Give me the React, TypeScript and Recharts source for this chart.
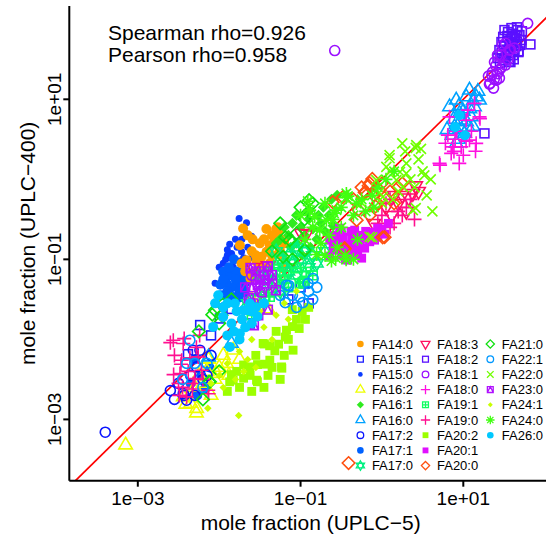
import { ScatterChart, Scatter, XAxis, YAxis, ReferenceLine } from "recharts";

// all values are log10(mole fraction): [UPLC-5, UPLC-400]
const fa14_0 = [[-1.706,-0.614],[-1.276,-0.656],[-1.317,-0.781],[-1.378,-0.823],[-1.746,-0.823],[-1.725,-1.051],[-1.541,-1.031],[-1.48,-0.969],[-1.255,-0.885],[-1.418,-0.906],[-1.562,-1.156],[-1.521,-1.239],[-1.215,-1.114],[-1.664,-1.01],[-1.615,-1.24],[-1.59,-0.75],[-1.3,-0.7],[-1.65,-0.7],[-1.5,-0.8],[-1.45,-0.75],[-1.35,-0.95],[-1.25,-0.75],[-1.6,-0.9],[-1.55,-0.95],[-1.48,-1.1],[-1.38,-1.05],[-1.3,-0.62],[-1.68,-1.15],[-1.28,-0.6],[-1.2,-0.8],[-1.22,-0.95],[-1.35,-0.7],[-1.42,-0.62]];
const fa15_1 = [[-1.991,-1.739],[-2.234,-1.821],[-1.615,-1.49],[-2.384,-2.185],[-1.623,-1.801],[-2.1,-1.95],[-1.85,-1.62],[-0.95,-1.3],[-1.0,-1.35],[-0.9,-1.55],[-1.15,-1.5]];
const fa15_0 = [[-1.755,-0.489],[-1.664,-0.544],[-1.602,-0.71],[-1.848,-0.926],[-1.725,-0.906],[-1.871,-0.81],[-1.828,-1.094],[-1.75,-1.02],[-1.7,-0.98],[-1.95,-1.05],[-1.9,-0.95],[-1.68,-1.1],[-2.05,-1.3],[-1.62,-1.2],[-1.8,-0.75],[-1.78,-0.85],[-1.9,-0.88],[-1.65,-0.85],[-1.72,-0.75],[-2.0,-1.1],[-1.92,-1.0],[-1.85,-0.98],[-1.6,-0.98]];
const fa16_2 = [[-3.15,-3.32],[-2.28,-2.92],[-2.41,-2.81],[-2.13,-2.25],[-1.4,-1.62],[-2.135,-2.239],[-2.277,-2.864],[-2.442,-2.719],[-1.909,-2.301],[-2.032,-2.426],[-1.828,-2.135],[-1.418,-1.635],[-2.2,-2.55],[-1.95,-2.2],[-2.05,-2.5],[-1.6,-1.5],[-2.15,-2.4],[-2.0,-2.35],[-2.3,-2.6],[-1.88,-2.45],[-2.1,-2.7],[-2.35,-2.8],[-2.25,-2.45],[-1.75,-2.25]];
const fa16_1 = [[-1.1,-0.55],[-1.0,-0.6],[-0.95,-0.7],[-1.05,-0.8],[-0.9,-0.5],[-0.85,-0.62],[-0.8,-0.75],[-1.15,-0.7],[-0.75,-0.55],[-0.7,-0.65],[-0.65,-0.45],[-0.6,-0.58],[-1.2,-0.6],[-1.25,-0.75],[-1.12,-0.85],[-0.98,-0.95],[-0.88,-0.85],[-0.78,-0.45],[-0.72,-0.35],[-0.9,-0.4],[-1.05,-0.45],[-0.62,-0.25],[-0.55,-0.2],[-1.3,-0.8]];
const fa16_0 = [[0.831,0.906],[0.913,0.99],[1.036,1.031],[1.076,1.115],[1.158,1.031],[0.953,0.824],[1.097,0.781],[0.892,0.656],[1.015,0.574],[1.137,0.906],[0.913,0.449],[1.199,0.99],[0.974,0.74],[1.06,0.65],[0.88,0.75],[0.95,0.92],[1.0,0.85],[1.12,0.98],[1.18,1.1],[0.98,0.62],[1.08,0.88],[0.86,0.55],[1.04,0.72],[0.94,0.5],[1.12,0.66],[0.8,0.62],[-2.13,-2.22],[-1.85,-2.05]];
const fa17_2 = [[-3.4,-3.16],[-2.6,-2.64],[-2.43,-2.7],[-2.442,-2.676],[-2.4,-2.76],[-2.319,-2.135],[-2.277,-2.344],[-2.237,-2.135],[-2.5,-2.55],[-2.35,-2.45],[-2.2,-2.5],[-2.3,-2.7],[-2.15,-2.45],[-2.55,-2.75],[-2.1,-2.2]];
const fa17_1 = [[-1.909,-1.301],[-1.951,-1.156],[-1.746,-1.219],[-1.685,-1.385],[-1.828,-1.469],[-1.787,-1.301],[-1.664,-1.281],[-1.869,-1.198],[-1.986,-1.318],[-1.914,-1.455],[-1.7,-1.41],[-1.785,-1.155],[-1.85,-1.35],[-1.75,-1.4],[-1.9,-1.4],[-1.8,-1.25],[-1.7,-1.3],[-1.95,-1.25],[-1.88,-1.1],[-1.82,-1.0],[-1.72,-1.12],[-1.65,-1.18],[-1.98,-1.45],[-1.76,-1.48],[-2.3,-2.25],[-2.22,-2.45],[-2.35,-2.55],[-2.18,-2.62],[-2.27,-2.7],[-2.12,-2.35],[-1.95,-1.6]];
const fa17_0 = [[-1.35,-1.15],[-1.25,-1.0],[-1.15,-0.95],[-1.05,-0.85],[-1.2,-1.1],[-1.3,-0.9],[-1.1,-1.05],[-0.95,-0.9],[-1.4,-1.25],[-1.0,-1.0],[-1.45,-1.4],[-1.5,-1.2],[-1.2,-1.25],[-1.3,-1.3],[-1.15,-1.15],[-1.05,-1.2],[-0.9,-1.1],[-0.85,-0.95],[-1.25,-1.4],[-1.55,-1.5],[-1.65,-1.55],[-1.0,-0.8],[-0.8,-1.05],[-0.7,-0.9]];
const fa18_3 = [[-0.931,-0.683],[0.415,-0.08],[0.329,-0.231],[-0.989,-0.676],[0.38,-0.176],[0.05,-0.35],[0.12,-0.45],[0.2,-0.3],[-0.1,-0.55],[0.25,-0.2],[0.3,-0.4],[0.45,-0.15],[0.15,-0.2],[-1.58,-1.1],[-1.4,-1.08]];
const fa18_2 = [[1.506,1.865],[1.592,1.89],[1.665,1.865],[1.542,1.79],[1.628,1.765],[1.69,1.803],[1.469,1.715],[1.567,1.678],[1.653,1.665],[1.444,1.615],[1.53,1.59],[1.616,1.553],[1.42,1.515],[1.714,1.74],[1.579,1.465],[1.493,1.49],[1.677,1.59],[1.55,1.84],[1.6,1.82],[1.64,1.8],[1.58,1.75],[1.66,1.72],[1.7,1.68],[1.5,1.66],[1.54,1.62],[1.6,1.7],[1.63,1.62],[1.68,1.6],[1.57,1.55],[1.47,1.58],[1.52,1.52],[1.62,1.5],[1.45,1.45],[1.56,1.47],[1.66,1.9],[1.72,1.85],[1.49,1.78],[1.26,0.574],[1.825,1.686]];
const fa18_1 = [[1.481,1.678],[1.42,1.553],[1.567,1.615],[1.383,1.465],[1.518,1.428],[1.444,1.365],[1.358,1.34],[1.407,1.24],[1.321,1.19],[1.444,1.265],[1.371,1.14],[1.309,1.29],[1.628,1.64],[1.52,1.7],[1.58,1.62],[1.46,1.55],[1.4,1.42],[1.35,1.3],[1.42,1.32],[1.33,1.2],[1.38,1.25],[1.47,1.4],[1.55,1.5],[1.791,1.949],[-0.58,1.609],[-1.55,-1.25],[-1.45,-1.35],[-1.6,-1.2],[-1.5,-1.4],[-1.4,-1.2]];
const fa18_0 = [[0.81,0.553],[0.871,0.406],[1.076,0.49],[1.158,0.449],[0.851,0.324],[0.974,0.406],[1.199,0.781],[0.708,0.199],[1.036,0.74],[1.137,0.949],[0.831,0.781],[1.055,0.865],[0.714,0.178],[0.885,0.349],[1.205,0.758],[1.034,0.478],[0.92,0.6],[1.0,0.3],[1.1,0.6],[0.78,0.45],[0.95,0.2],[1.15,0.35],[0.9,0.5]];
const fa19_1 = [[-1.01,-1.301],[-0.948,-1.281],[-1.378,-1.469],[-1.234,-1.26],[-0.974,-1.284],[-0.931,-1.155],[-1.059,-1.111],[-1.274,-1.069],[-1.444,-1.455],[-1.15,-1.35],[-1.3,-1.4],[-1.5,-1.6],[-0.85,-1.2],[-1.2,-1.2],[-1.6,-1.7]];
const fa19_0 = [[-2.6,-2.04],[-2.43,-1.99],[-2.47,-2.31],[-2.24,-1.95],[-2.3,-2.49],[-2.49,-2.7],[-2.13,-2.68],[-2.36,-2.23],[-2.56,-2.44],[-2.564,-2.01],[-2.442,-2.051],[-2.461,-2.26],[-2.482,-2.426],[-2.319,-2.551],[-2.135,-2.635],[-2.4,-2.719],[-2.216,-2.385],[-2.258,-2.219],[-2.55,-2.2],[-2.38,-2.4],[-2.28,-2.1],[-2.5,-2.55],[-2.2,-2.5],[-2.33,-2.62],[-2.45,-2.6],[0.1,-0.25],[0.2,-0.4],[0.3,-0.35],[0.15,-0.55],[0.0,-0.45],[0.05,-0.3],[0.25,-0.45],[0.35,-0.25],[0.4,-0.5],[-0.05,-0.55],[0.1,-0.6]];
const fa20_2 = [[-0.94,-1.75],[-1.23,-2.36],[-1.53,-2.53],[-1.85,-2.44],[-1.44,-2.31],[-1.27,-2.06],[-1.1,-1.84],[-1.7,-2.32],[-1.234,-2.344],[-1.541,-2.51],[-1.092,-2.135],[-1.378,-2.26],[-1.173,-1.885],[-1.46,-2.051],[-1.623,-2.344],[-1.828,-2.51],[-1.017,-1.864],[-1.102,-1.628],[-1.188,-1.971],[-1.316,-2.143],[-1.444,-2.058],[-1.529,-2.315],[-1.7,-2.485],[-1.785,-2.4],[-1.871,-2.53],[-1.3,-1.9],[-1.2,-2.2],[-1.35,-2.35],[-1.55,-2.2],[-1.62,-2.45],[-1.4,-2.45],[-1.15,-2.0],[-1.05,-1.75],[-0.98,-1.65],[-1.25,-2.5],[-1.9,-2.65],[-1.75,-2.6],[-1.6,-2.65],[-1.45,-2.6],[-0.9,-1.6],[-1.38,-2.08]];
const fa20_1 = [[-0.642,-0.76],[-0.544,-0.698],[-0.458,-0.823],[-0.372,-0.735],[-0.274,-0.798],[-0.175,-0.71],[-0.09,-0.76],[-0.58,-0.885],[-0.496,-0.948],[-0.396,-0.91],[-0.298,-0.885],[-0.212,-0.86],[-0.126,-0.66],[-0.053,-0.61],[-0.519,-0.61],[-0.335,-0.635],[-0.421,-1.01],[-0.249,-0.985],[-0.642,-0.96],[0.033,-0.685],[-0.6,-0.7],[-0.48,-0.72],[-0.4,-0.82],[-0.32,-0.78],[-0.22,-0.75],[-0.15,-0.78],[-0.55,-0.8],[-0.45,-0.9],[-0.35,-0.95],[-0.28,-0.7],[-0.1,-0.68],[0.0,-0.62],[-0.2,-0.65],[-0.6,-0.85],[-0.5,-0.65],[-0.38,-0.65],[0.08,-0.55],[-0.05,-0.72],[-0.3,-0.86],[-0.45,-1.0]];
const fa20_0 = [[-0.605,-0.285],[-0.482,-0.223],[-0.151,-0.048],[-0.213,-0.16],[-0.028,-0.135],[0.033,-0.723],[-0.458,-0.86],[-0.31,-0.51],[-0.41,-3.545],[-0.163,-0.08],[-0.119,0.005],[0.009,-0.725],[-0.205,-0.166],[-0.291,-0.381],[-0.077,-0.339],[-0.461,-0.875],[-0.25,-0.1],[-0.35,-0.25],[-0.1,-0.2],[0.0,-0.05],[-0.05,-0.3],[0.1,-0.15],[0.15,-0.3],[0.2,-0.1],[-0.15,-0.45],[0.25,-0.05]];
const fa21_0 = [[-0.896,-0.26],[-2.085,-1.691],[-1.957,-1.563],[-2.126,-2.53],[-2.053,-1.635],[-1.971,-1.698],[-2.114,-2.531],[-1.05,-0.676],[-1.133,-0.76],[-0.948,-0.885],[-1.215,-0.969],[-1.188,-0.725],[-1.25,-0.55],[-1.0,-0.35],[-0.85,-0.3],[-0.95,-0.5],[-1.35,-0.9],[-1.1,-1.0],[-2.25,-1.9],[-2.0,-1.8],[-1.85,-1.5],[-2.0,-2.4],[-2.2,-2.75]];
const fa22_1 = [[-2.36,-2.01],[-1.173,-1.323],[-1.01,-1.469],[-0.908,-1.301],[-1.145,-1.326],[-0.845,-1.24],[-0.974,-1.541],[-1.188,-1.541],[-1.1,-1.45],[-0.9,-1.4],[-1.05,-1.6],[-0.85,-1.5],[-1.25,-1.45],[-0.8,-1.35],[-2.3,-2.3],[-2.45,-2.5],[-2.2,-2.6],[-2.15,-2.3],[-2.4,-2.3]];
const fa22_0 = [[0.094,0.303],[0.422,0.428],[0.38,-0.385],[-0.151,-0.719],[0.177,-0.01],[0.258,-0.094],[-0.069,-0.01],[0.012,-0.219],[0.299,0.074],[0.054,0.156],[0.094,0.264],[0.286,0.349],[0.415,0.393],[0.521,0.049],[0.415,-0.36],[-0.119,-0.725],[0.222,0.091],[-0.034,-0.166],[-0.248,-0.295],[0.137,-0.253],[0.3,0.2],[0.45,0.25],[0.5,0.1],[0.35,0.0],[0.2,-0.15],[0.4,-0.1],[0.55,-0.2],[0.1,0.1],[0.25,0.45],[0.48,0.38],[0.6,0.0],[0.0,-0.3],[0.62,-0.4]];
const fa23_0 = [[-1.615,-1.11],[-1.402,-1.09],[-1.574,-1.823],[-1.402,-1.628],[-1.525,-1.323],[-1.476,-1.41],[-1.353,-1.198],[-1.636,-1.485],[-1.439,-1.26],[-1.304,-1.385],[-1.55,-1.15],[-1.5,-1.25],[-1.6,-1.35],[-1.35,-1.3],[-1.45,-1.15],[-1.58,-1.55],[-1.68,-1.35],[-1.52,-1.7]];
const fa24_1 = [[-2.14,-2.86],[-1.76,-2.95],[-1.9,-2.3],[-1.75,-2.15],[-1.6,-2.0],[-1.45,-1.85],[-1.3,-1.7],[-1.2,-1.55],[-2.0,-2.45],[-1.65,-2.25],[-1.5,-1.65],[-1.05,-1.4],[-1.8,-2.5],[-1.55,-2.35],[-1.35,-2.0],[-1.95,-2.6],[-1.7,-2.4],[-1.15,-1.75],[-2.1,-2.55]];
const fa24_0 = [[-0.911,-0.273],[-0.439,-0.231],[-0.826,-0.469],[-0.682,-0.51],[-0.559,-0.385],[-0.437,-0.176],[-0.764,-0.635],[-0.887,-0.385],[-0.314,-0.301],[-0.568,-0.983],[-0.44,-1.004],[-0.803,-0.94],[-0.589,-0.424],[-0.418,-0.21],[-0.7,-0.3],[-0.6,-0.5],[-0.5,-0.6],[-0.75,-0.8],[-0.65,-0.7],[-0.35,-0.45],[-0.25,-0.25],[-0.2,-0.4],[-0.5,-0.35],[-0.85,-0.6],[-0.95,-0.75],[-1.0,-0.45],[-0.3,-0.75],[-0.55,-0.85],[-0.12,-0.2],[-0.05,-0.1],[0.05,0.0],[0.15,0.1],[-0.1,-0.35],[-0.45,-0.95],[-0.7,-0.95],[-0.62,-1.02],[-0.35,-1.0]];
const fa26_0 = [[-2.012,-1.448],[-1.848,-1.801],[-1.746,-1.926],[-1.869,-2.094],[-1.951,-1.719],[-1.623,-1.551],[-2.074,-1.844],[-1.706,-1.635],[-1.807,-1.551],[-1.529,-1.714],[-1.664,-1.635],[-1.785,-1.649],[-1.9,-1.55],[-1.95,-1.6],[-1.72,-1.75],[-1.6,-1.65],[-1.82,-1.9],[-1.9,-1.95],[-2.05,-1.55],[-1.68,-1.85],[-1.55,-1.6],[-1.45,-1.55],[-1.75,-2.0],[-1.6,-1.8],[0.95,0.8],[1.02,0.55],[0.9,0.65]];

const xDomain = [-3.842, 2.09];
const yDomain = [-3.766, 2.166];
const xTicks = [-3, -1, 1];
const yTicks = [-3, -1, 1];

type Pch =
  | "circle" | "filledCircle" | "dot" | "square" | "filledSquare" | "triangle"
  | "triangleDown" | "diamond" | "filledDiamond" | "smallDiamond" | "plus"
  | "cross" | "asterisk" | "squarePlus" | "squareTri" | "star";

// legend order (column-major, 9 per column)
const series: { name: string; data: number[][]; color: string; pch: Pch }[] = [
  { name: "FA14:0", data: fa14_0, color: "#FF9F00", pch: "filledCircle" },
  { name: "FA15:1", data: fa15_1, color: "#1E1EFF", pch: "square" },
  { name: "FA15:0", data: fa15_0, color: "#0A3CFF", pch: "dot" },
  { name: "FA16:2", data: fa16_2, color: "#EEFF00", pch: "triangle" },
  { name: "FA16:1", data: fa16_1, color: "#2FEA1F", pch: "filledDiamond" },
  { name: "FA16:0", data: fa16_0, color: "#00A2FF", pch: "triangle" },
  { name: "FA17:2", data: fa17_2, color: "#0A14FF", pch: "circle" },
  { name: "FA17:1", data: fa17_1, color: "#0062FF", pch: "filledCircle" },
  { name: "FA17:0", data: fa17_0, color: "#00F080", pch: "star" },
  { name: "FA18:3", data: fa18_3, color: "#FF1060", pch: "triangleDown" },
  { name: "FA18:2", data: fa18_2, color: "#5A10FF", pch: "square" },
  { name: "FA18:1", data: fa18_1, color: "#9A10FF", pch: "circle" },
  { name: "FA18:0", data: fa18_0, color: "#FF10E0", pch: "plus" },
  { name: "FA19:1", data: fa19_1, color: "#10FF60", pch: "squarePlus" },
  { name: "FA19:0", data: fa19_0, color: "#FF1090", pch: "plus" },
  { name: "FA20:2", data: fa20_2, color: "#9CFF00", pch: "filledSquare" },
  { name: "FA20:1", data: fa20_1, color: "#E010FF", pch: "filledSquare" },
  { name: "FA20:0", data: fa20_0, color: "#FF5010", pch: "diamond" },
  { name: "FA21:0", data: fa21_0, color: "#10E010", pch: "diamond" },
  { name: "FA22:1", data: fa22_1, color: "#0098FF", pch: "circle" },
  { name: "FA22:0", data: fa22_0, color: "#70FF00", pch: "cross" },
  { name: "FA23:0", data: fa23_0, color: "#B010FF", pch: "squareTri" },
  { name: "FA24:1", data: fa24_1, color: "#C8FF00", pch: "smallDiamond" },
  { name: "FA24:0", data: fa24_0, color: "#40FF10", pch: "asterisk" },
  { name: "FA26:0", data: fa26_0, color: "#00C8FF", pch: "filledCircle" },
];

// plotting order: the palmitoleic blues go down first so the orange stays visible
const drawOrder = ["FA15:1", "FA15:0", "FA17:1", "FA14:0"];
const drawn = [
  ...drawOrder.map((n) => series.find((s) => s.name === n)!),
  ...series.filter((s) => !drawOrder.includes(s.name)),
];

const FONT = "'Liberation Sans', Arial, Helvetica, sans-serif";

const fmtTick = (v: number) => (v < 0 ? `1e\u22120${-v}` : `1e+0${v}`);

function Marker({ cx, cy, pch, color, r }: { cx?: number; cy?: number; pch: Pch; color: string; r: number }) {
  if (cx == null || cy == null) return null;
  const sw = r > 4 ? 1.6 : 1.3;
  const line = { stroke: color, strokeWidth: sw, fill: "none" };
  const sq = r * 0.886;
  switch (pch) {
    case "circle":
      return <circle cx={cx} cy={cy} r={r} {...line} />;
    case "filledCircle":
      return <circle cx={cx} cy={cy} r={r} fill={color} />;
    case "dot":
      return <circle cx={cx} cy={cy} r={r * 0.7} fill={color} />;
    case "square":
      return <rect x={cx - sq} y={cy - sq} width={2 * sq} height={2 * sq} {...line} />;
    case "filledSquare":
      return <rect x={cx - sq} y={cy - sq} width={2 * sq} height={2 * sq} fill={color} />;
    case "triangle":
      return <polygon points={`${cx},${cy - 1.555 * r} ${cx + 1.347 * r},${cy + 0.778 * r} ${cx - 1.347 * r},${cy + 0.778 * r}`} {...line} />;
    case "triangleDown":
      return <polygon points={`${cx},${cy + 1.555 * r} ${cx + 1.347 * r},${cy - 0.778 * r} ${cx - 1.347 * r},${cy - 0.778 * r}`} {...line} />;
    case "diamond": {
      const d = r * 1.25;
      return <polygon points={`${cx},${cy - d} ${cx + d},${cy} ${cx},${cy + d} ${cx - d},${cy}`} {...line} />;
    }
    case "filledDiamond":
    case "smallDiamond": {
      const d = pch === "smallDiamond" ? r * 0.75 : r * 1.1;
      return <polygon points={`${cx},${cy - d} ${cx + d},${cy} ${cx},${cy + d} ${cx - d},${cy}`} fill={color} />;
    }
    case "plus": {
      const a = r * 1.41;
      return <path d={`M${cx - a},${cy}H${cx + a}M${cx},${cy - a}V${cy + a}`} {...line} />;
    }
    case "cross": {
      const a = r;
      return <path d={`M${cx - a},${cy - a}L${cx + a},${cy + a}M${cx - a},${cy + a}L${cx + a},${cy - a}`} {...line} />;
    }
    case "asterisk": {
      const a = r * 0.95;
      const b = r * 1.3;
      return <path d={`M${cx - a},${cy - a}L${cx + a},${cy + a}M${cx - a},${cy + a}L${cx + a},${cy - a}M${cx - b},${cy}H${cx + b}M${cx},${cy - b}V${cy + b}`} {...line} />;
    }
    case "squarePlus":
      return <path d={`M${cx - sq},${cy - sq}h${2 * sq}v${2 * sq}h${-2 * sq}ZM${cx - sq},${cy}H${cx + sq}M${cx},${cy - sq}V${cy + sq}`} {...line} />;
    case "squareTri":
      return <path d={`M${cx - sq},${cy - sq}h${2 * sq}v${2 * sq}h${-2 * sq}ZM${cx - sq},${cy + sq}L${cx},${cy - sq}L${cx + sq},${cy + sq}`} {...line} />;
    case "star": {
      const a = r * 1.1;
      return (
        <g {...line}>
          <polygon points={`${cx},${cy - 1.3 * a} ${cx + 1.13 * a},${cy + 0.65 * a} ${cx - 1.13 * a},${cy + 0.65 * a}`} />
          <polygon points={`${cx},${cy + 1.3 * a} ${cx + 1.13 * a},${cy - 0.65 * a} ${cx - 1.13 * a},${cy - 0.65 * a}`} />
        </g>
      );
    }
  }
  return null;
}

function YTick({ x, y, payload }: any) {
  return (
    <text x={x} y={y} transform={`rotate(-90 ${x} ${y})`} textAnchor="middle" fontSize={19} fill="#000" fontFamily={FONT}>
      {fmtTick(payload.value)}
    </text>
  );
}

function YLabel({ viewBox }: any) {
  const cy = viewBox.y + viewBox.height / 2;
  return (
    <text x={35} y={cy} transform={`rotate(-90 35 ${cy})`} textAnchor="middle" fontSize={21} fill="#000" fontFamily={FONT}>
      mole fraction (UPLC{"\u2212"}400)
    </text>
  );
}

const LEG_X = [360.4, 425.5, 490.3];
const LEG_Y0 = 344;
const LEG_DY = 15.2;

export default function App() {
  return (
    <div style={{ position: "absolute", left: 0, top: 0, width: 546, height: 539, overflow: "hidden", background: "#fff", fontFamily: FONT }}>
      <ScatterChart width={560} height={539} margin={{ top: 6, right: 8, bottom: 0, left: 0 }}>
        <XAxis
          type="number"
          dataKey="x"
          domain={xDomain}
          ticks={xTicks}
          tickFormatter={fmtTick}
          allowDataOverflow
          height={58.3}
          tickSize={6}
          tickMargin={5}
          tick={{ fontSize: 19, fill: "#000" }}
          axisLine={{ stroke: "#000", strokeWidth: 2 }}
          tickLine={{ stroke: "#000", strokeWidth: 2 }}
          label={{ value: "mole fraction (UPLC\u22125)", position: "insideBottom", offset: 9, fontSize: 21, fill: "#000" }}
        />
        <XAxis xAxisId="top" orientation="top" type="number" domain={xDomain} height={0} tick={false} tickLine={false} axisLine={{ stroke: "#000", strokeWidth: 2 }} />
        <YAxis
          type="number"
          dataKey="y"
          domain={yDomain}
          ticks={yTicks}
          allowDataOverflow
          width={69.3}
          tickSize={6}
          tickMargin={2}
          tick={<YTick />}
          axisLine={{ stroke: "#000", strokeWidth: 2 }}
          tickLine={{ stroke: "#000", strokeWidth: 2 }}
          label={{ content: <YLabel /> }}
        />
        {drawn.map((s) => (
          <Scatter
            key={s.name}
            name={s.name}
            data={s.data.map(([x, y]) => ({ x, y }))}
            isAnimationActive={false}
            shape={(p: any) => <Marker cx={p.cx} cy={p.cy} pch={s.pch} color={s.color} r={5} />}
          />
        ))}
        <ReferenceLine
          segment={[{ x: yDomain[0], y: yDomain[0] }, { x: xDomain[1], y: xDomain[1] }]}
          stroke="#FF0000"
          strokeWidth={1.7}
        />
        <text x={108} y={40} fontSize={21} fill="#000" fontFamily={FONT}>Spearman rho=0.926</text>
        <text x={108} y={62} fontSize={21} fill="#000" fontFamily={FONT}>Pearson rho=0.958</text>
        {series.map((s, i) => {
          const col = Math.floor(i / 9);
          const row = i % 9;
          const x = LEG_X[col];
          const y = LEG_Y0 + row * LEG_DY;
          return (
            <g key={`leg-${s.name}`}>
              <Marker cx={x} cy={y} pch={s.pch} color={s.color} r={3.3} />
              <text x={x + 11.5} y={y} dy="0.36em" fontSize={13} fill="#000" fontFamily={FONT}>{s.name}</text>
            </g>
          );
        })}
      </ScatterChart>
    </div>
  );
}
